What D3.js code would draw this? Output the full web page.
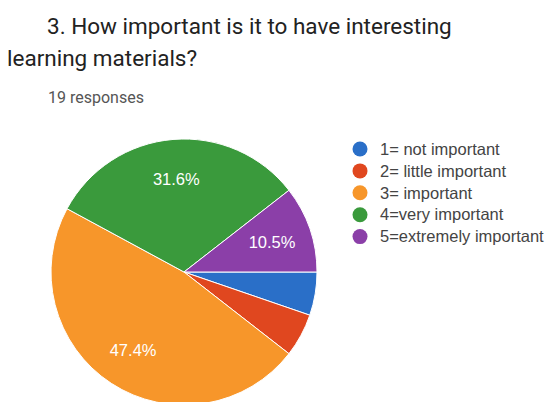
<!DOCTYPE html>
<html>
<head>
<meta charset="utf-8">
<style>
  body { margin: 0; background: #fff; }
  svg { display: block; font-family: Roboto, Arial, sans-serif; }
  .arial { font-family: Arial, "Liberation Sans", sans-serif; }
</style>
</head>
<body>
<svg id="chart" width="558" height="402"></svg>
<script src="https://d3js.org/d3.v7.min.js"></script>
<script>
const categories = ["1= not important", "2= little important", "3= important", "4=very important", "5=extremely important"];
const counts = [1, 1, 9, 6, 2];
const sliceLabels = ["", "", "47.4%", "31.6%", "10.5%"];
const colors = ["#2a6fc8", "#e0471f", "#f7962a", "#3a9a3c", "#8b3fa8"];

const svg = d3.select("#chart");
const cx = 184, cy = 272, r = 133;

// title
svg.append("text").attr("x", 47).attr("y", 34)
    .attr("font-size", 22.5).attr("fill", "#222")
    .text("3. How important is it to have interesting");
svg.append("text").attr("x", 7).attr("y", 66)
    .attr("font-size", 22.5).attr("fill", "#222")
    .text("learning materials?");
svg.append("text").attr("x", 48).attr("y", 103)
    .attr("font-size", 16).attr("fill", "#555")
    .text("19 responses");

const data = categories.map((c, i) => ({ name: c, value: counts[i], label: sliceLabels[i], color: colors[i] }));

const pie = d3.pie().sort(null).value(d => d.value)
    .startAngle(Math.PI / 2).endAngle(Math.PI / 2 + 2 * Math.PI);
const arcs = pie(data);

const arc = d3.arc().innerRadius(0).outerRadius(r);
const labelArc = d3.arc().innerRadius(r * 0.7).outerRadius(r * 0.7);

const g = svg.append("g").attr("transform", `translate(${cx},${cy})`);

g.selectAll("path")
    .data(arcs)
    .join("path")
    .attr("d", arc)
    .attr("fill", d => d.data.color)
    .attr("stroke", "#fff")
    .attr("stroke-width", 1);

g.selectAll("text")
    .data(arcs.filter(d => d.data.label))
    .join("text")
    .attr("class", "arial")
    .attr("transform", d => `translate(${labelArc.centroid(d)})`)
    .attr("text-anchor", "middle")
    .attr("dy", "0.35em")
    .attr("font-size", 16.5)
    .attr("fill", "#fff")
    .text(d => d.data.label);

// legend
const legend = svg.append("g").attr("transform", "translate(360,149)");
const items = legend.selectAll("g")
    .data(data)
    .join("g")
    .attr("transform", (d, i) => `translate(0,${i * 21.9})`);
items.append("circle").attr("r", 7.5).attr("fill", d => d.color);
items.append("text").attr("class", "arial").attr("x", 20).attr("dy", "0.35em")
    .attr("font-size", 16.5).attr("fill", "#444")
    .text(d => d.name);
</script>
</body>
</html>
